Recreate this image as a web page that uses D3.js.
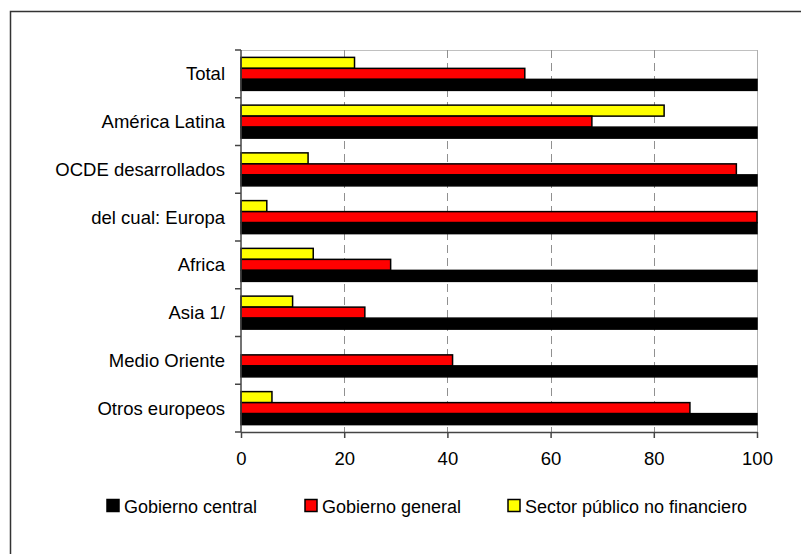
<!DOCTYPE html>
<html>
<head>
<meta charset="utf-8">
<script src="https://cdn.jsdelivr.net/npm/d3@7"></script>
<style>
  html, body { margin: 0; padding: 0; background: #fff; }
  svg { display: block; }
  text { font-family: "Liberation Sans", Arial, sans-serif; fill: #000; }
</style>
</head>
<body>
<svg id="chart" width="801" height="554"></svg>
<script>
// Regions (top to bottom)
const categories = [
  "Total",
  "América Latina",
  "OCDE desarrollados",
  "del cual: Europa",
  "Africa",
  "Asia 1/",
  "Medio Oriente",
  "Otros europeos"
];

// Series names (legend order)
const seriesNames = ["Gobierno central", "Gobierno general", "Sector público no financiero"];

// Values per region, in category order
const gobiernoCentral = [100, 100, 100, 100, 100, 100, 100, 100];
const gobiernoGeneral = [55, 68, 96, 100, 29, 24, 41, 87];
const sectorPublicoNF = [22, 82, 13, 5, 14, 10, 0, 6];

const xTicks = [0, 20, 40, 60, 80, 100];

const seriesValues = [gobiernoCentral, gobiernoGeneral, sectorPublicoNF];
const seriesColors = ["#000000", "#ff0000", "#ffff00"];
// Within each band, the last series sits on top
const bandOrder = [2, 1, 0];

const svg = d3.select("#chart");

// Outer frame
svg.append("rect")
  .attr("x", 10.5).attr("y", 11.5)
  .attr("width", 830).attr("height", 600)
  .attr("fill", "none").attr("stroke", "#333").attr("stroke-width", 1.5);

const plot = { left: 241, right: 757, top: 50, bottom: 432 };

const x = d3.scaleLinear().domain([0, 100]).range([plot.left, plot.right]);
const y = d3.scaleBand().domain(categories).range([plot.top, plot.bottom]);
const yInner = d3.scaleBand().domain(bandOrder).range([0, y.bandwidth()])
  .paddingInner(0).paddingOuter(0.67);

// Plot frame (top and right) and dashed gridlines
svg.append("line")
  .attr("x1", plot.left).attr("x2", plot.right)
  .attr("y1", plot.top + 0.5).attr("y2", plot.top + 0.5)
  .attr("stroke", "#c0c0c0").attr("stroke-width", 1);
svg.append("line")
  .attr("x1", plot.right + 0.5).attr("x2", plot.right + 0.5)
  .attr("y1", plot.top).attr("y2", plot.bottom)
  .attr("stroke", "#b0b0b0").attr("stroke-width", 1);

svg.append("g").selectAll("line")
  .data(xTicks.filter(t => t > 0 && t < 100))
  .join("line")
  .attr("x1", d => Math.round(x(d)) + 0.5).attr("x2", d => Math.round(x(d)) + 0.5)
  .attr("y1", plot.top).attr("y2", plot.bottom)
  .attr("stroke", "#909090").attr("stroke-width", 1)
  .attr("stroke-dasharray", "8,5");

// Bars
const groups = svg.append("g").selectAll("g")
  .data(categories)
  .join("g")
  .attr("transform", d => `translate(0,${y(d)})`);

groups.selectAll("rect")
  .data((c, i) => bandOrder
    .map(s => ({ s, v: seriesValues[s][i] }))
    .filter(d => d.v > 0))
  .join("rect")
  .attr("x", x(0))
  .attr("y", d => yInner(d.s))
  .attr("width", d => x(d.v) - x(0))
  .attr("height", yInner.bandwidth())
  .attr("fill", d => seriesColors[d.s])
  .attr("stroke", "#000")
  .attr("stroke-width", 1.5);

// Axes
const xAxis = svg.append("g")
  .attr("transform", `translate(0,${plot.bottom})`)
  .call(d3.axisBottom(x).tickValues(xTicks).tickSize(6).tickPadding(14).tickSizeOuter(0));
xAxis.select(".domain").attr("stroke", "#444").attr("stroke-width", 1.5);
xAxis.selectAll(".tick line").attr("stroke", "#444").attr("stroke-width", 1.5);
xAxis.selectAll("text")
  .attr("font-size", "18.5px")
  .attr("font-family", "Liberation Sans, Arial, sans-serif")
  .attr("fill", "#000");

// Left axis: ticks at band boundaries, labels centred in each band
const yAxis = svg.append("g").attr("class", "y-axis");
yAxis.append("line")
  .attr("x1", plot.left).attr("x2", plot.left)
  .attr("y1", plot.top).attr("y2", plot.bottom)
  .attr("stroke", "#444").attr("stroke-width", 1.5);
const boundaries = categories.map(c => y(c)).concat([plot.bottom]);
yAxis.selectAll("line.tk")
  .data(boundaries)
  .join("line")
  .attr("class", "tk")
  .attr("x1", plot.left - 6).attr("x2", plot.left)
  .attr("y1", d => d).attr("y2", d => d)
  .attr("stroke", "#444").attr("stroke-width", 1.5);
yAxis.selectAll("text")
  .data(categories)
  .join("text")
  .attr("x", plot.left - 16)
  .attr("y", d => y(d) + y.bandwidth() / 2 + 6.5)
  .attr("text-anchor", "end")
  .attr("font-size", "18.5px")
  .text(d => d);

// Legend
const legendX = [107, 305, 508];
const legend = svg.append("g").selectAll("g")
  .data(seriesNames)
  .join("g")
  .attr("transform", (d, i) => `translate(${legendX[i]},499.5)`);
legend.append("rect")
  .attr("width", 12).attr("height", 12)
  .attr("fill", (d, i) => seriesColors[i])
  .attr("stroke", "#000").attr("stroke-width", 1.5);
legend.append("text")
  .attr("x", 17).attr("y", 13)
  .attr("font-size", "18px")
  .text(d => d);
</script>
</body>
</html>
